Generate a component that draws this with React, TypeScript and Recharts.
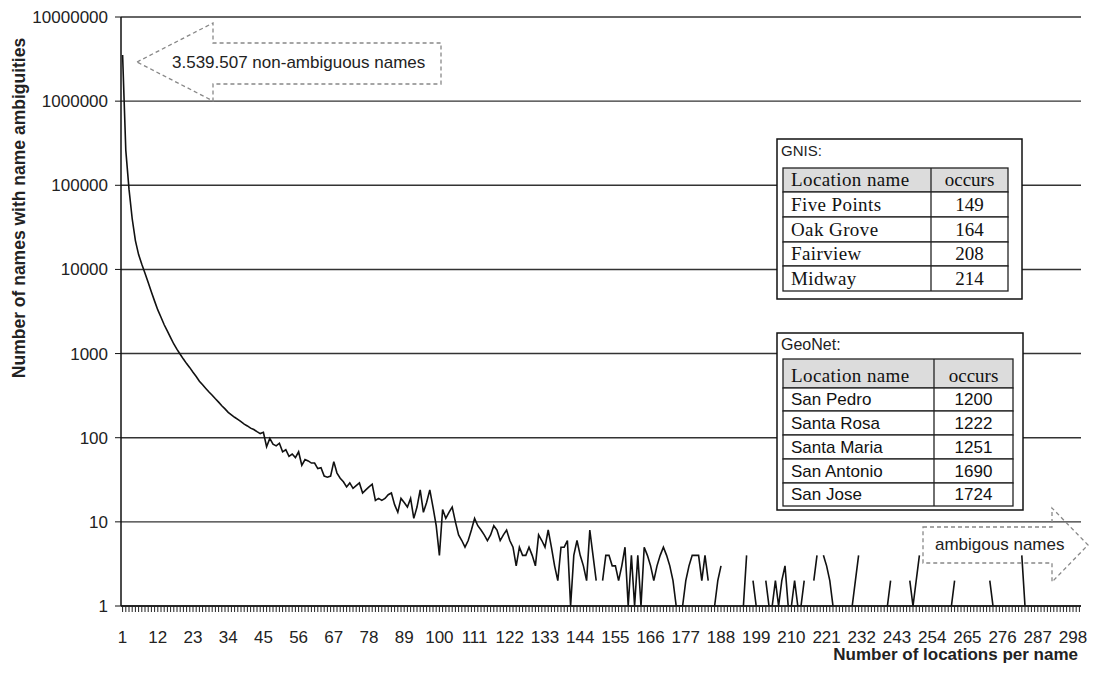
import { LineChart, Line, XAxis, YAxis, CartesianGrid } from "recharts"

// number of locations per name (x categories)
const categories = Array.from({ length: 300 }, (_, i) => i + 1)

// number of names having that many locations (null = no names, gap in log chart)
const namesPerCount: (number | null)[] = [
  3539507, 260000, 90000, 40000, 22000, 15000, 11500, 9000, 7000, 5400,
  4200, 3300, 2700, 2200, 1850, 1550, 1300, 1120, 980, 860,
  760, 680, 600, 535, 470, 425, 385, 350, 320, 290,
  265, 240, 220, 200, 187, 175, 165, 155, 145, 138,
  130, 125, 118, 112, 116, 78, 98, 84, 80, 86,
  68, 72, 60, 64, 58, 68, 47, 55, 53, 50,
  50, 43, 44, 35, 34, 35, 52, 38, 33, 30,
  26, 29, 25, 27, 29, 22, 24, 26, 28, 18,
  19, 18, 19, 21, 22, 16, 13, 19, 17, 15,
  19, 11, 15, 24, 13, 17, 24, 15, 9, 4,
  14, 11, 13, 15, 10, 7, 6, 5, 6, 8,
  11, 9, 8, 7, 6, 7, 9, 8, 6, 7,
  8, 6, 5, 3, 5, 4, 4, 5, 4, 3,
  7, 6, 5, 8, 5, 3, 2, 5, 5, 6,
  1, 4, 6, 4, 3, 2, 8, 4, 2, null,
  2, 4, 4, 3, 3, 2, 3, 5, 1, 4,
  1, 4, 1, 5, 4, 3, 2, 3, 4, 5,
  4, 3, 2, 1, 1, 1, 2, 3, 4, 4,
  4, 2, 4, 2, null, 1, 2, 3, null, null,
  null, null, null, null, 1, 4, null, 2, 1, null,
  null, 2, 1, 1, 2, 1, 2, 3, 1, 1,
  2, 1, 1, 2, null, null, 2, 4, null, 4,
  3, 2, 1, null, null, null, null, null, 1, 2,
  4, null, null, null, null, null, null, null, null, 1,
  2, null, null, null, null, null, 2, 1, 2, 4,
  null, null, null, null, null, null, null, null, null, 1,
  2, null, null, null, null, null, null, null, null, null,
  null, 2, 1, null, null, null, null, null, null, null,
  null, 4, 1, null, null, null, null, null, null, null,
  null, null, null, null, null, null, null, null, null, null,
]

const xTickLabels = [
  "1", "12", "23", "34", "45", "56", "67", "78", "89", "100", "111", "122", "133", "144",
  "155", "166", "177", "188", "199", "210", "221", "232", "243", "254", "265", "276", "287", "298",
]
const yTicks = [1, 10, 100, 1000, 10000, 100000, 1000000, 10000000]

const gnisNames = ["Five Points", "Oak Grove", "Fairview", "Midway"]
const gnisOccurs = [149, 164, 208, 214]
const geonetNames = ["San Pedro", "Santa Rosa", "Santa Maria", "San Antonio", "San Jose"]
const geonetOccurs = [1200, 1222, 1251, 1690, 1724]

const data = categories.map((k, i) => ({ k, v: namesPerCount[i] }))

const SANS = "'Liberation Sans', Arial, sans-serif"
const SERIF = "'Liberation Serif', 'Times New Roman', serif"
const labelSet = new Set(xTickLabels)

function XTick(props: any) {
  const { x, payload } = props
  if (!labelSet.has(String(payload.value))) return <g />
  return (
    <text x={x} y={643} textAnchor="middle" fontSize={17} fill="#222" fontFamily={SANS}>
      {payload.value}
    </text>
  )
}

function LocTable({ x, y, w, title, titleSize, top, split, right, headH, rowTops, names, occurs, rowFont, rowSize, boxBottom }: any) {
  const bottom = rowTops[rowTops.length - 1]
  return (
    <g>
      <rect x={x} y={y} width={w} height={boxBottom - y} fill="#fff" stroke="#111" strokeWidth={1.5} />
      <text x={x + 4} y={y + 17} fontSize={titleSize} fontFamily={SANS} fill="#222">{title}</text>
      <rect x={x + 6} y={top} width={right - x - 6} height={headH} fill="#dcdcdc" stroke="#222" strokeWidth={1.3} />
      <text x={x + 14} y={top + headH - 6} fontSize={19} fontFamily={SERIF} fill="#111" letterSpacing={0.4}>Location name</text>
      <text x={(split + right) / 2} y={top + headH - 6} fontSize={19} fontFamily={SERIF} fill="#111" textAnchor="middle">occurs</text>
      {names.map((n: string, i: number) => {
        const t = rowTops[i]
        const b = rowTops[i + 1]
        return (
          <g key={n}>
            <rect x={x + 6} y={t} width={right - x - 6} height={b - t} fill="#fff" stroke="#222" strokeWidth={1.3} />
            <text x={x + 14} y={b - 6} fontSize={rowSize} fontFamily={rowFont} fill="#111" letterSpacing={rowFont === SERIF ? 0.4 : 0}>{n}</text>
            <text x={(split + right) / 2} y={b - 6} fontSize={rowSize} fontFamily={rowFont} fill="#111" textAnchor="middle">{occurs[i]}</text>
          </g>
        )
      })}
      <line x1={split} y1={top} x2={split} y2={bottom} stroke="#222" strokeWidth={1.3} />
    </g>
  )
}

export default function App() {
  return (
    <div style={{ position: "absolute", left: 0, top: 0, width: 1093, height: 676, background: "#fff" }}>
      <LineChart width={1093} height={676} data={data} margin={{ top: 17, right: 12, bottom: 0, left: 0 }}>
        <CartesianGrid vertical={false} stroke="#333" strokeWidth={1.4} />
        <XAxis
          dataKey="k"
          type="category"
          interval={0}
          height={70}
          tick={XTick}
          tickSize={6}
          tickLine={{ stroke: "#222" }}
          axisLine={{ stroke: "#111", strokeWidth: 1.5 }}
          padding={{ left: 1.6, right: 1.6 }}
        />
        <YAxis
          width={121}
          scale="log"
          domain={[1, 10000000]}
          ticks={yTicks}
          interval={0}
          allowDataOverflow
          tickSize={6}
          tickMargin={7}
          tickLine={{ stroke: "#111" }}
          axisLine={{ stroke: "#111", strokeWidth: 1.5 }}
          tick={{ fontSize: 17, fill: "#222", fontFamily: SANS }}
        />
        <Line
          type="linear"
          dataKey="v"
          stroke="#111"
          strokeWidth={1.6}
          dot={false}
          connectNulls={false}
          isAnimationActive={false}
        />
      </LineChart>
      <svg width={1093} height={676} style={{ position: "absolute", left: 0, top: 0, pointerEvents: "none" }}>
        <text
          transform="rotate(-90, 25, 208)"
          x={25}
          y={208}
          textAnchor="middle"
          fontSize={17.5}
          fontWeight={700}
          fontFamily={SANS}
          fill="#222"
        >
          Number of names with name ambiguities
        </text>
        <text x={1078} y={660} textAnchor="end" fontSize={17} fontWeight={700} fontFamily={SANS} fill="#222">
          Number of locations per name
        </text>

        <polygon
          points="137,62 213,23 213,43 441,43 441,84 213,84 213,101"
          fill="none"
          stroke="#888"
          strokeWidth={1.3}
          strokeDasharray="4 3"
        />
        <text x={172} y={68} fontSize={17} fontFamily={SANS} fill="#222">3.539.507 non-ambiguous names</text>

        <polygon
          points="923,527 1052,527 1052,508 1088,545 1052,582 1052,563 923,563"
          fill="none"
          stroke="#888"
          strokeWidth={1.3}
          strokeDasharray="4 3"
        />
        <text x={935} y={550} fontSize={17} fontFamily={SANS} fill="#222">ambigous names</text>

        <LocTable
          x={777}
          y={139}
          w={245}
          boxBottom={299}
          title="GNIS:"
          titleSize={15}
          top={168}
          headH={24}
          split={931}
          right={1008}
          rowTops={[192, 217, 242, 266, 291]}
          names={gnisNames}
          occurs={gnisOccurs}
          rowFont={SERIF}
          rowSize={19}
        />
        <LocTable
          x={777}
          y={333}
          w={246}
          boxBottom={510}
          title="GeoNet:"
          titleSize={16}
          top={359}
          headH={29}
          split={934}
          right={1013}
          rowTops={[388, 411, 435, 459, 483, 506]}
          names={geonetNames}
          occurs={geonetOccurs}
          rowFont={SANS}
          rowSize={17}
        />
      </svg>
    </div>
  )
}
